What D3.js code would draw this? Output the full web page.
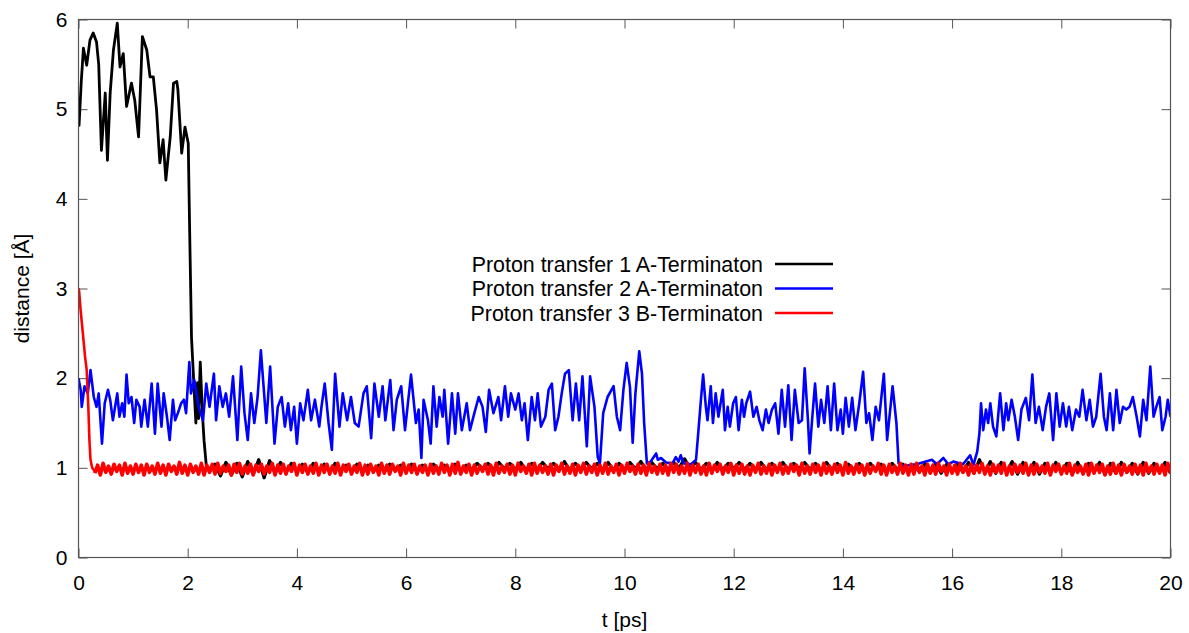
<!DOCTYPE html>
<html>
<head>
<meta charset="utf-8">
<script src="https://cdn.jsdelivr.net/npm/d3@7"></script>
<style>
  body { margin: 0; background: #fff; }
  text { font-family: "Liberation Sans", Arial, sans-serif; fill: #000; }
</style>
</head>
<body>
<div id="chart"></div>
<script>
// ---- data ----
const xTicks = [0, 2, 4, 6, 8, 10, 12, 14, 16, 18, 20];
const yTicks = [0, 1, 2, 3, 4, 5, 6];
const seriesNames = [
  "Proton transfer 1 A-Terminaton",
  "Proton transfer 2 A-Terminaton",
  "Proton transfer 3 B-Terminaton"
];
const seriesColors = ["#000000", "#0000ff", "#ff0000"];

// transfer 1: [t, distance] before the jump, then a regular tail
const blackHead = [
  [0, 5.01], [0.01, 4.82], [0.05, 5.3], [0.09, 5.68], [0.15, 5.49], [0.21, 5.77],
  [0.27, 5.85], [0.33, 5.75], [0.37, 5.5], [0.42, 4.54], [0.49, 5.18], [0.53, 4.43],
  [0.58, 5.18], [0.64, 5.66], [0.71, 5.96], [0.76, 5.47], [0.82, 5.62], [0.88, 5.03],
  [0.97, 5.29], [1.03, 5.10], [1.10, 4.69], [1.17, 5.81], [1.25, 5.66], [1.31, 5.36],
  [1.37, 5.36], [1.43, 4.99], [1.49, 4.40], [1.55, 4.66], [1.60, 4.21], [1.68, 4.69],
  [1.74, 5.29], [1.80, 5.31], [1.82, 5.22], [1.89, 4.51], [1.95, 4.80], [2.01, 4.62],
  [2.04, 3.5], [2.07, 2.45], [2.12, 1.85], [2.15, 1.50], [2.18, 1.95], [2.20, 1.55],
  [2.23, 2.18], [2.27, 1.60], [2.30, 1.30], [2.34, 1.03]
];
const blackTailStart = 2.4, blackTailStep = 0.1;
const blackTail = [
  0.96,1.04,0.91,1.06,0.92,1.05,0.90,1.07,0.93,1.09,
  0.89,1.08,0.94,1.06,0.95,1.05,0.96,1.04,0.95,1.05,
  0.97,1.04,0.96,1.05,0.97,1.03,0.96,1.04,0.97,1.03,
  0.98,1.03,0.96,1.04,0.97,1.03,0.98,1.04,0.96,1.03,
  0.97,1.04,0.98,1.03,0.96,1.04,0.97,1.03,0.98,1.05,
  0.99,1.05,0.98,1.06,0.99,1.05,0.98,1.06,0.97,1.05,
  0.98,1.06,0.99,1.05,0.98,1.07,0.97,1.05,0.98,1.06,
  0.99,1.05,0.98,1.06,0.97,1.05,0.98,1.06,0.99,1.07,
  0.98,1.06,0.99,1.05,0.98,1.06,1.00,1.10,0.99,1.06,
  0.98,1.05,0.97,1.06,0.98,1.05,0.99,1.06,0.98,1.05,
  0.97,1.06,0.98,1.05,0.97,1.06,0.98,1.05,0.99,1.06,
  0.98,1.05,0.97,1.06,0.98,1.05,0.97,1.04,0.98,1.05,
  0.97,1.05,0.98,1.04,0.97,1.05,0.98,1.04,0.97,1.03,
  0.96,1.04,0.95,1.05,0.94,1.04,0.96,1.05,0.95,1.06,
  0.94,1.09,0.95,1.07,0.94,1.06,0.95,1.07,0.93,1.06,
  0.94,1.06,0.93,1.05,0.94,1.06,0.95,1.05,0.93,1.06,
  0.94,1.05,0.95,1.06,0.93,1.05,0.94,1.06,0.95,1.05,
  0.93,1.06,0.94,1.05,0.95,1.06,0.94
];

// transfer 2: [t, distance]
const bluePts = [
  [0.00,2.00],[0.04,1.87],[0.06,1.68],[0.11,1.91],[0.17,1.83],[0.22,2.09],[0.28,1.79],[0.33,1.68],
  [0.37,1.83],[0.43,1.27],[0.48,1.72],[0.54,1.87],[0.58,1.76],[0.63,1.53],[0.71,1.83],[0.75,1.57],
  [0.80,1.72],[0.84,1.57],[0.88,2.04],[0.92,1.72],[0.97,1.79],[1.02,1.50],[1.06,1.76],[1.12,1.68],
  [1.15,1.46],[1.21,1.76],[1.27,1.46],[1.34,1.94],[1.40,1.38],[1.45,1.94],[1.52,1.46],[1.56,1.83],
  [1.62,1.57],[1.67,1.31],[1.73,1.76],[1.77,1.53],[1.82,1.61],[1.88,1.72],[1.93,1.76],[1.97,1.61],
  [2.03,2.18],[2.06,1.83],[2.12,1.98],[2.20,1.68],[2.28,1.53],[2.34,1.94],[2.40,1.68],[2.48,2.05],
  [2.52,1.53],[2.58,1.91],[2.64,1.68],[2.70,1.83],[2.76,1.57],[2.83,2.02],[2.91,1.31],[2.98,2.13],
  [3.04,1.61],[3.10,1.31],[3.16,1.83],[3.22,1.50],[3.28,1.79],[3.34,2.31],[3.44,1.50],[3.51,2.13],
  [3.59,1.27],[3.65,1.68],[3.72,1.79],[3.78,1.46],[3.84,1.72],[3.89,1.42],[3.95,1.68],[4.00,1.27],
  [4.06,1.72],[4.12,1.53],[4.20,1.87],[4.26,1.53],[4.33,1.76],[4.41,1.46],[4.45,1.68],[4.51,1.94],
  [4.58,1.50],[4.64,1.20],[4.70,2.05],[4.78,1.46],[4.84,1.83],[4.92,1.53],[4.99,1.79],
  [5.06,1.50],[5.13,1.46],[5.22,1.83],[5.28,1.91],[5.36,1.33],[5.42,1.94],[5.50,1.57],[5.57,1.91],
  [5.62,1.53],[5.71,1.98],[5.77,1.42],[5.83,1.76],[5.91,1.91],[5.98,1.42],[6.09,2.04],[6.18,1.50],
  [6.23,1.65],[6.28,1.11],[6.32,1.76],[6.40,1.53],[6.45,1.27],[6.50,1.91],[6.56,1.46],[6.61,1.79],
  [6.67,1.57],[6.70,1.87],[6.77,1.27],[6.84,1.83],[6.90,1.38],[6.95,1.83],[7.02,1.42],[7.11,1.72],
  [7.17,1.42],[7.25,1.61],[7.33,1.79],[7.40,1.68],[7.46,1.40],[7.52,1.87],[7.60,1.61],[7.69,1.79],
  [7.74,1.53],[7.81,1.91],[7.87,1.57],[7.92,1.83],[8.00,1.65],[8.06,1.83],[8.12,1.53],[8.17,1.72],
  [8.23,1.31],[8.30,1.79],[8.36,1.53],[8.41,1.83],[8.47,1.46],[8.55,1.57],[8.61,1.87],[8.67,1.94],
  [8.73,1.42],[8.79,1.57],[8.85,1.83],[8.91,2.05],[8.98,2.09],[9.05,1.53],[9.11,1.94],[9.17,1.53],
  [9.23,2.02],[9.31,1.24],[9.37,2.02],[9.45,1.68],[9.51,1.12],[9.55,1.05],[9.61,1.61],[9.69,1.79],
  [9.80,1.91],[9.86,1.57],[9.92,1.42],[9.98,1.87],[10.04,2.17],[10.10,1.90],[10.15,1.28],[10.20,1.83],
  [10.27,2.30],[10.32,2.05],[10.36,1.50],[10.41,1.05],[10.48,1.07],[10.58,1.16],[10.61,1.09],[10.67,1.11],
  [10.76,1.06],[10.88,1.05],[10.94,1.12],[10.99,1.07],[11.03,1.14],[11.08,1.05],[11.22,1.04],[11.31,1.09],
  [11.36,1.46],[11.40,1.76],[11.44,2.04],[11.49,1.68],[11.52,1.53],[11.58,1.91],[11.62,1.50],[11.67,1.83],
  [11.72,1.57],[11.80,1.87],[11.84,1.42],[11.89,1.68],[11.93,1.46],[11.99,1.72],[12.04,1.79],[12.09,1.42],
  [12.15,1.76],[12.19,1.57],[12.23,1.72],[12.30,1.85],[12.36,1.57],[12.42,1.68],[12.47,1.53],[12.53,1.42],
  [12.59,1.65],[12.64,1.50],[12.70,1.65],[12.76,1.72],[12.82,1.38],[12.88,1.87],[12.94,1.46],[13.00,1.92],
  [13.06,1.31],[13.12,1.87],[13.19,1.50],[13.25,1.53],[13.30,2.11],[13.36,1.53],[13.39,1.16],[13.44,1.57],
  [13.49,1.94],[13.55,1.46],[13.60,1.76],[13.66,1.50],[13.72,1.91],[13.78,1.42],[13.84,1.94],[13.90,1.42],
  [13.96,1.65],[14.00,1.38],[14.05,1.78],[14.11,1.46],[14.17,1.78],[14.23,1.42],[14.30,1.72],[14.37,2.07],
  [14.43,1.50],[14.48,1.61],[14.54,1.31],[14.60,1.68],[14.66,1.53],[14.75,2.05],[14.81,1.31],[14.91,1.91],
  [14.98,1.50],[15.02,1.05],[15.11,1.02],[15.35,1.04],[15.63,1.09],[15.72,1.04],[15.84,1.11],[15.93,1.04],
  [16.02,1.07],[16.20,1.04],[16.33,1.14],[16.39,1.03],[16.46,1.18],[16.50,1.38],[16.53,1.72],[16.57,1.42],
  [16.62,1.65],[16.66,1.50],[16.70,1.72],[16.75,1.46],[16.81,1.35],[16.88,1.83],[16.94,1.42],[16.99,1.72],
  [17.03,1.53],[17.09,1.76],[17.15,1.57],[17.21,1.31],[17.27,1.65],[17.35,1.78],[17.41,1.53],[17.47,2.04],
  [17.53,1.50],[17.59,1.68],[17.66,1.42],[17.72,1.68],[17.78,1.83],[17.85,1.31],[17.91,1.83],[17.97,1.46],
  [18.03,1.72],[18.09,1.46],[18.14,1.68],[18.20,1.42],[18.27,1.65],[18.33,1.57],[18.39,1.87],[18.46,1.53],
  [18.52,1.76],[18.58,1.46],[18.64,1.57],[18.72,2.05],[18.78,1.57],[18.83,1.42],[18.89,1.83],[18.95,1.42],
  [19.01,1.87],[19.07,1.50],[19.13,1.68],[19.19,1.65],[19.25,1.68],[19.31,1.79],[19.38,1.57],[19.44,1.35],
  [19.50,1.76],[19.56,1.53],[19.63,2.13],[19.69,1.57],[19.74,1.68],[19.80,1.79],[19.85,1.42],[19.91,1.57],
  [19.95,1.76],[20.00,1.57]
];

// transfer 3: fast decay, then a regular tail
const redHead = [
  [0, 3.0], [0.01, 2.98], [0.04, 2.75], [0.08, 2.50], [0.12, 2.24], [0.15, 2.09],
  [0.18, 1.68], [0.20, 1.31], [0.22, 1.09], [0.25, 1.00], [0.3, 0.96]
];
const redTailStart = 0.3, redTailStep = 0.05;
const redTail = [
  0.94,1.03,0.92,1.05,0.95,1.02,0.93,1.04,0.96,1.03,0.92,1.05,0.94,1.02,0.93,1.04,0.95,1.03,0.92,1.04,
  0.95,1.02,0.93,1.05,0.94,1.03,0.92,1.04,0.96,1.02,0.93,1.06,0.94,1.03,0.92,1.04,0.95,1.02,0.93,1.05,
  0.92,1.03,0.95,1.04,0.93,1.05,0.94,1.02,0.96,1.03,0.92,1.04,0.95,1.05,0.93,1.02,0.94,1.04,0.92,1.03,
  0.96,1.04,0.93,1.02,0.95,1.05,0.92,1.03,0.94,1.04,0.93,1.02,0.96,1.05,0.92,1.03,0.95,1.04,0.93,1.02,
  0.94,1.05,0.92,1.03,0.95,1.04,0.93,1.02,0.94,1.05,0.92,1.03,0.96,1.04,0.93,1.02,0.95,1.05,0.92,1.03,
  0.93,1.04,0.95,1.02,0.92,1.05,0.94,1.03,0.93,1.04,0.96,1.02,0.92,1.05,0.94,1.03,0.95,1.04,0.93,1.02,
  0.95,1.03,0.92,1.04,0.94,1.02,0.93,1.05,0.95,1.03,0.92,1.04,0.94,1.06,0.93,1.02,0.95,1.04,0.92,1.03,
  0.94,1.02,0.96,1.04,0.93,1.03,0.92,1.05,0.94,1.02,0.95,1.04,0.93,1.03,0.92,1.05,0.96,1.02,0.94,1.04,
  0.92,1.05,0.94,1.03,0.95,1.02,0.93,1.04,0.92,1.03,0.96,1.05,0.93,1.02,0.94,1.04,0.92,1.03,0.95,1.05,
  0.93,1.02,0.95,1.04,0.92,1.03,0.94,1.05,0.93,1.02,0.95,1.04,0.92,1.03,0.94,1.05,0.96,1.02,0.93,1.04,
  0.94,1.03,0.92,1.05,0.95,1.02,0.93,1.04,0.94,1.03,0.92,1.05,0.95,1.04,0.93,1.02,0.94,1.05,0.92,1.03,
  0.95,1.04,0.93,1.02,0.92,1.05,0.94,1.03,0.96,1.04,0.93,1.02,0.95,1.05,0.92,1.03,0.94,1.04,0.93,1.02,
  0.92,1.03,0.95,1.05,0.93,1.02,0.94,1.04,0.92,1.03,0.95,1.05,0.93,1.02,0.94,1.04,0.96,1.03,0.92,1.05,
  0.94,1.02,0.93,1.04,0.95,1.03,0.92,1.05,0.94,1.02,0.93,1.04,0.95,1.03,0.92,1.06,0.94,1.02,0.93,1.04,
  0.95,1.03,0.92,1.04,0.94,1.02,0.96,1.05,0.93,1.03,0.92,1.04,0.95,1.02,0.93,1.05,0.94,1.03,0.92,1.04,
  0.93,1.05,0.95,1.02,0.92,1.04,0.94,1.03,0.93,1.05,0.96,1.02,0.92,1.04,0.94,1.03,0.93,1.05,0.95,1.02,
  0.92,1.04,0.94,1.03,0.95,1.05,0.93,1.02,0.92,1.04,0.95,1.03,0.94,1.05,0.92,1.02,0.93,1.04,0.95,1.03,
  0.94,1.05,0.92,1.03,0.93,1.04,0.95,1.02,0.94,1.05,0.92,1.03,0.96,1.04,0.93,1.02,0.94,1.05,0.92,1.03,
  0.95,1.02,0.93,1.04,0.92,1.05,0.94,1.03,0.95,1.04,0.92,1.02,0.93,1.05,0.94,1.03,0.92,1.04,0.95,1.02,
  0.93,1.04,0.94,1.03,0.92,1.05,0.95,1.02,0.93,1.04,0.94,1.03,0.92,1.05,0.95,1.02,0.93,1.04,0.94,1.03
];

// ---- layout ----
const W = 1189, H = 633;
const margin = { top: 19.5, right: 18.5, bottom: 75.5, left: 78.5 };
const width = W - margin.left - margin.right;
const height = H - margin.top - margin.bottom;
const fontSize = "21px";

const svg = d3.select("#chart").append("svg")
  .attr("width", W).attr("height", H);

const x = d3.scaleLinear().domain([0, 20]).range([0, width]);
const y = d3.scaleLinear().domain([0, 6]).range([height, 0]);

const g = svg.append("g").attr("transform", `translate(${margin.left},${margin.top})`);

svg.append("defs").append("clipPath").attr("id", "plot-clip")
  .append("rect").attr("width", width).attr("height", height);

const tickLen = 9;
const frameColor = "#555";
const fmt = d3.format("d");

// inward ticks on all four sides
g.append("g").attr("transform", `translate(0,${height})`)
  .call(d3.axisBottom(x).tickValues(xTicks).tickSize(-tickLen).tickPadding(18).tickFormat(fmt))
  .call(a => a.select(".domain").remove());
g.append("g")
  .call(d3.axisTop(x).tickValues(xTicks).tickSize(-tickLen).tickFormat(""))
  .call(a => a.select(".domain").remove());
g.append("g")
  .call(d3.axisLeft(y).tickValues(yTicks).tickSize(-tickLen).tickPadding(11).tickFormat(fmt))
  .call(a => a.select(".domain").remove());
g.append("g").attr("transform", `translate(${width},0)`)
  .call(d3.axisRight(y).tickValues(yTicks).tickSize(-tickLen).tickFormat(""))
  .call(a => a.select(".domain").remove());

g.selectAll(".tick line").attr("stroke", frameColor);
g.selectAll(".tick text")
  .attr("font-family", "'Liberation Sans', Arial, sans-serif")
  .attr("font-size", fontSize).attr("fill", "#000");

// series
const line = d3.line().x(d => x(d[0])).y(d => y(d[1]));
const plot = g.append("g").attr("clip-path", "url(#plot-clip)");

const blackTailPts = blackTail.map((v, i) => [blackTailStart + i * blackTailStep, v]);
const redTailPts = redTail.map((v, i) => [redTailStart + i * redTailStep, v]);

// dense noisy tails are drawn a little heavier so they read as a band
const layers = [
  [blackHead, 0, 2.8], [[blackHead[blackHead.length - 1]].concat(blackTailPts), 0, 3.2],
  [bluePts, 1, 2.6],
  [redHead, 2, 2.6], [redTailPts, 2, 3.6]
];
layers.forEach(([data, k, w]) => {
  plot.append("path")
    .datum(data)
    .attr("fill", "none")
    .attr("stroke", seriesColors[k])
    .attr("stroke-width", w)
    .attr("stroke-linejoin", "round")
    .attr("d", line);
});

// frame
g.append("rect")
  .attr("width", width).attr("height", height)
  .attr("fill", "none").attr("stroke", frameColor).attr("stroke-width", 1.2);

// axis titles
svg.append("text")
  .attr("x", margin.left + width / 2).attr("y", 627)
  .attr("text-anchor", "middle").attr("font-size", fontSize)
  .text("t [ps]");
svg.append("text")
  .attr("transform", `translate(29,${margin.top + height / 2}) rotate(-90)`)
  .attr("text-anchor", "middle").attr("font-size", fontSize)
  .text("distance [Å]");

// legend
const legend = svg.append("g");
seriesNames.forEach((name, i) => {
  const cy = 264 + i * 24.5;
  legend.append("text")
    .attr("x", 763).attr("y", cy + 7.5)
    .attr("text-anchor", "end").attr("font-size", "21.4px")
    .text(name);
  legend.append("line")
    .attr("x1", 775).attr("x2", 833).attr("y1", cy).attr("y2", cy)
    .attr("stroke", seriesColors[i]).attr("stroke-width", 2.3);
});
</script>
</body>
</html>
